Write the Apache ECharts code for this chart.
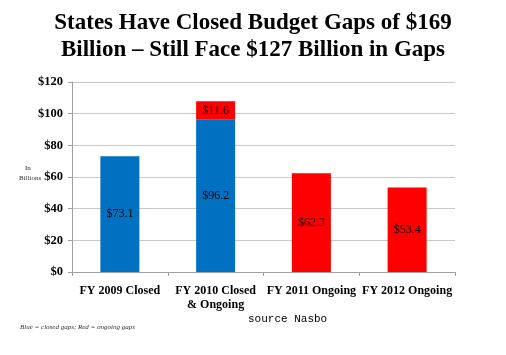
<!DOCTYPE html>
<html><head><meta charset="utf-8">
<script src="https://cdn.jsdelivr.net/npm/echarts@6/dist/echarts.min.js"></script>
<style>html,body{margin:0;padding:0;background:#fff}#c{width:506px;height:355px}</style>
</head><body><div id="c"></div>
<script>
var categories = ['FY 2009 Closed', 'FY 2010 Closed\n& Ongoing', 'FY 2011 Ongoing', 'FY 2012 Ongoing'];
var closedGaps = [73.1, 96.2, '-', '-'];
var ongoingGaps = ['-', 11.6, 62.3, 53.4];
var yTicks = [0, 20, 40, 60, 80, 100, 120];

var serif = '"Liberation Serif", "DejaVu Serif", serif';
var chart = echarts.init(document.getElementById('c'), null, {renderer: 'canvas'});
var lbl = {show: true, position: 'inside', color: '#000', fontFamily: serif, fontSize: 12,
  formatter: function (p) { return '$' + p.value; }};
chart.setOption({
  animation: false,
  backgroundColor: '#fff',
  title: {
    text: 'States Have Closed Budget Gaps of $169\nBillion \u2013 Still Face $127 Billion in Gaps',
    left: 'center', top: 5,
    textStyle: {fontFamily: serif, fontWeight: 'bold', fontSize: 23, lineHeight: 27, color: '#000'}
  },
  grid: {left: 72, right: 51, top: 82, bottom: 83},
  xAxis: {
    type: 'category', data: categories,
    axisLine: {lineStyle: {color: '#a0a0a0'}},
    axisTick: {show: true, alignWithLabel: false, length: 4, lineStyle: {color: '#a0a0a0'}},
    axisLabel: {fontFamily: serif, fontWeight: 'bold', fontSize: 12, color: '#000', margin: 12, lineHeight: 14, interval: 0}
  },
  yAxis: {
    type: 'value', min: 0, max: 120, interval: 20,
    axisLine: {show: true, lineStyle: {color: '#a0a0a0'}},
    axisTick: {show: true, length: 4, lineStyle: {color: '#a0a0a0'}},
    splitLine: {lineStyle: {color: '#c8c8c8'}},
    axisLabel: {fontFamily: serif, fontWeight: 'bold', fontSize: 12.5, color: '#000', margin: 9,
      formatter: function (v) { return yTicks.indexOf(v) >= 0 ? '$' + v : ''; }}
  },
  series: [
    {name: 'Closed', type: 'bar', stack: 'g', data: closedGaps, barWidth: 39,
      itemStyle: {color: '#0070C0'}, label: lbl},
    {name: 'Ongoing', type: 'bar', stack: 'g', data: ongoingGaps, barWidth: 39,
      itemStyle: {color: '#FF0000'}, label: lbl}
  ],
  graphic: [
    {type: 'text', left: 25, top: 165, style: {text: 'In', fontFamily: serif, fontSize: 7, fill: '#333'}},
    {type: 'text', left: 19, top: 175, style: {text: 'Billions', fontFamily: serif, fontSize: 7, fill: '#333'}},
    {type: 'text', left: 248, top: 314, style: {text: 'source Nasbo', fontFamily: '"Liberation Mono", "DejaVu Sans Mono", monospace', fontSize: 11, fill: '#000'}},
    {type: 'text', left: 20, top: 324, style: {text: 'Blue = closed gaps; Red = ongoing gaps', fontFamily: serif, fontStyle: 'italic', fontSize: 7, fill: '#333'}}
  ]
});
</script></body></html>
